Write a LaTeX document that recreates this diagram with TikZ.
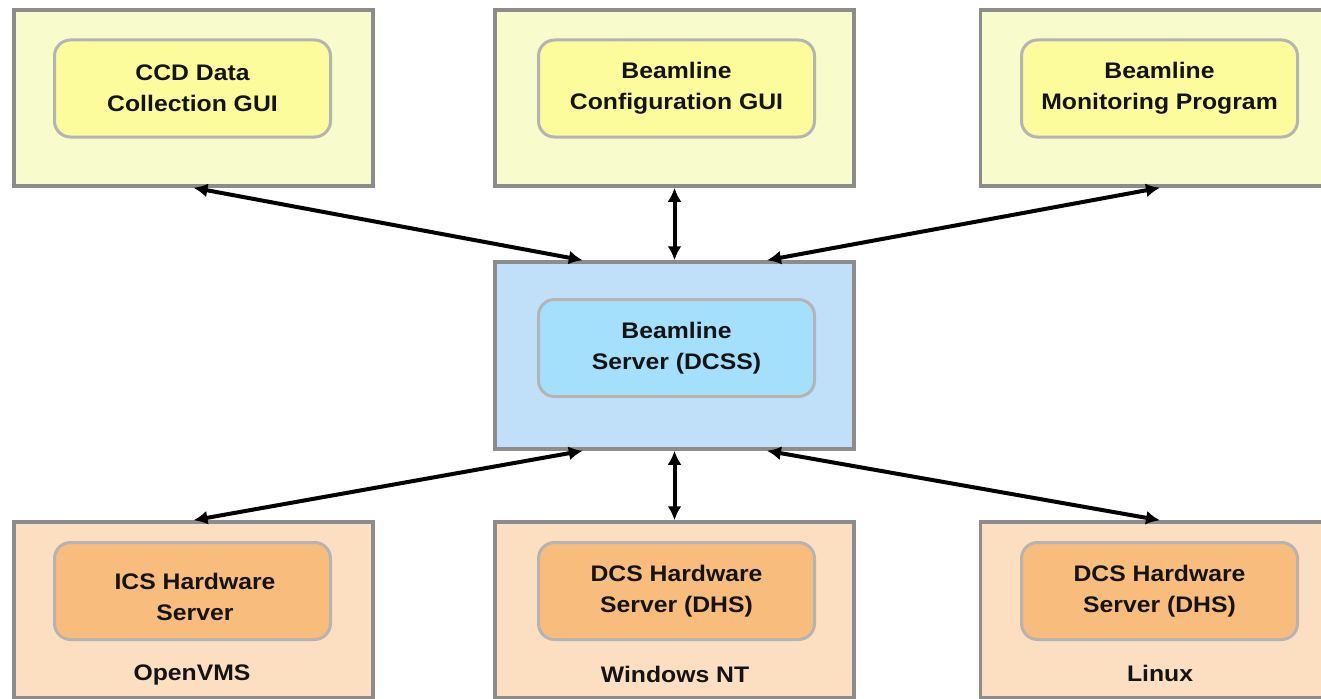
\documentclass[tikz,border=0pt]{standalone}
\usepackage{fontspec}
\setmainfont{Liberation Sans}
\newfontfamily\widesans[FakeStretch=1.1]{Liberation Sans}
\usetikzlibrary{arrows.meta,calc}
\definecolor{ybg}{HTML}{F8FCCC}
\definecolor{yin}{HTML}{FCFC9C}
\definecolor{bbg}{HTML}{C0E0FA}
\definecolor{bin}{HTML}{A4E0FC}
\definecolor{obg}{HTML}{FCDFC0}
\definecolor{oin}{HTML}{F8BC7C}
\definecolor{frame}{HTML}{8C8C8C}
\definecolor{inframe}{HTML}{B4B4B4}
\tikzset{
  outerbox/.style={draw=frame, line width=3.5pt, minimum width=359pt, minimum height=176pt, inner sep=0pt},
  innerbox/.style={draw=inframe, line width=3pt, rounded corners=16pt, minimum width=276pt, minimum height=97pt, inner sep=0pt, align=center, text=black!92,
    font=\widesans\fontsize{22.5}{31}\selectfont\bfseries},
  boxtext/.style={align=center, text=black!92, inner sep=0pt, font=\widesans\fontsize{22.5}{31}\selectfont\bfseries},
  oslabel/.style={font=\widesans\fontsize{22.5}{25}\selectfont\bfseries, text=black!92},
  link/.style={line width=4pt, {Latex[length=14pt,width=14pt]}-{Latex[length=14pt,width=14pt]}}
}
\begin{document}
\begin{tikzpicture}[x=1pt,y=-1pt]
\useasboundingbox[fill=white] (0,0) rectangle (1321,698);
% top row
\node[outerbox, fill=ybg] (tl) at (193.5,98) {};
\node[outerbox, fill=ybg] (tm) at (674.5,98) {};
\node[outerbox, fill=ybg] (tr) at (1160,98) {};
\node[innerbox, fill=yin] (tli) at (192.5,88.5) {CCD Data\\Collection GUI};
\node[innerbox, fill=yin] (tmi) at (676.5,88.5) {Beamline\\Configuration GUI};
\node[innerbox, fill=yin] (tri) at (1159.5,88.5) {Beamline\\Monitoring Program};
% center
\node[outerbox, fill=bbg, minimum height=187pt] (c) at (674.5,355.5) {};
\node[innerbox, fill=bin] (ci) at (676.5,348) {Beamline\\Server (DCSS)};
% bottom row
\node[outerbox, fill=obg] (bl) at (193.5,610) {};
\node[outerbox, fill=obg] (bm) at (674.5,610) {};
\node[outerbox, fill=obg] (br) at (1160,610) {};
\node[innerbox, fill=oin] (bli) at (192.5,591) {};
\node[boxtext] (blt) at (195,597) {ICS Hardware\\Server};
\node[innerbox, fill=oin] (bmi) at (676.5,591) {DCS Hardware\\Server (DHS)};
\node[innerbox, fill=oin] (bri) at (1159.5,591) {DCS Hardware\\Server (DHS)};
\node[oslabel] (os1) at (192,675) {OpenVMS};
\node[oslabel] (os2) at (675,674) {Windows NT};
\node[oslabel] (os3) at (1160,673) {Linux};
% connectors
\coordinate (cnw) at ($(c.north west)!0.247!(c.north east)$);
\coordinate (cne) at ($(c.north west)!0.755!(c.north east)$);
\coordinate (csw) at ($(c.south west)!0.247!(c.south east)$);
\coordinate (cse) at ($(c.south west)!0.755!(c.south east)$);
\draw[link] (tl.south) -- (cnw);
\draw[link] (tm.south) -- (c.north);
\draw[link] (tr.south) -- (cne);
\draw[link] (bl.north) -- (csw);
\draw[link] (bm.north) -- (c.south);
\draw[link] (br.north) -- (cse);
\end{tikzpicture}
\end{document}
